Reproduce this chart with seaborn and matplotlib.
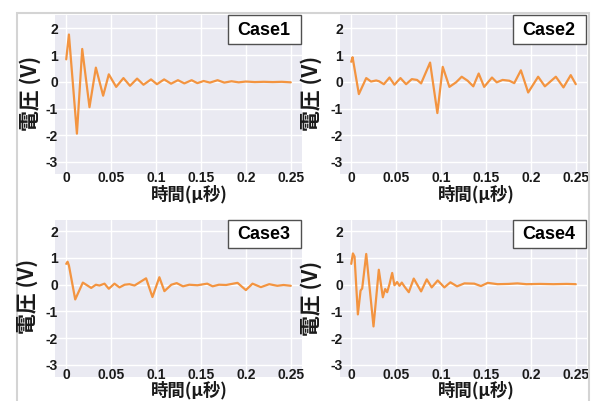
import matplotlib
matplotlib.use("Agg")
import matplotlib.pyplot as plt
import matplotlib.patches as mpatches
import seaborn as sns
import pandas as pd

# ---------------- data ----------------
case_names = ["Case1", "Case2", "Case3", "Case4"]

t1 = [0.0, 0.003, 0.0119, 0.0178, 0.0259, 0.033, 0.0411, 0.0474, 0.0556, 0.0637,
      0.071, 0.0789, 0.086, 0.0944, 0.101, 0.109, 0.1167, 0.1244, 0.1315, 0.1396,
      0.146, 0.153, 0.160, 0.1685, 0.176, 0.184, 0.192, 0.200, 0.210, 0.220,
      0.230, 0.240, 0.250]
v1 = [0.84, 1.77, -1.94, 1.23, -0.95, 0.53, -0.52, 0.28, -0.19, 0.14,
      -0.15, 0.12, -0.11, 0.09, -0.09, 0.09, -0.07, 0.06, -0.06, 0.06,
      -0.05, 0.03, -0.03, 0.06, -0.03, 0.02, -0.02, 0.01, -0.01, 0.0,
      -0.01, 0.0, -0.02]

t2 = [0.0, 0.0015, 0.0085, 0.0167, 0.022, 0.0278, 0.031, 0.0363, 0.0426, 0.0481,
      0.0548, 0.0611, 0.0674, 0.0733, 0.0778, 0.0878, 0.0959, 0.1019, 0.1093, 0.1167,
      0.123, 0.1296, 0.1359, 0.1419, 0.148, 0.1567, 0.162, 0.1685, 0.176, 0.1815,
      0.1889, 0.197, 0.2081, 0.2156, 0.2278, 0.2363, 0.2444, 0.25]
v2 = [0.75, 0.92, -0.46, 0.14, 0.01, 0.05, 0.02, -0.09, 0.16, -0.11,
      0.14, -0.09, 0.10, 0.07, -0.06, 0.72, -1.17, 0.56, -0.19, -0.02,
      0.19, 0.04, -0.17, 0.31, -0.19, 0.16, -0.02, 0.07, 0.04, -0.05,
      0.43, -0.40, 0.19, -0.17, 0.19, -0.21, 0.25, -0.09]

t3 = [0.0, 0.0015, 0.003, 0.010, 0.0185, 0.0278, 0.033, 0.037, 0.0426, 0.0474,
      0.0537, 0.0593, 0.065, 0.0704, 0.076, 0.0889, 0.096, 0.1037, 0.1093, 0.117,
      0.123, 0.130, 0.137, 0.146, 0.157, 0.163, 0.170, 0.178, 0.1907, 0.200,
      0.2074, 0.2167, 0.226, 0.235, 0.242, 0.25]
v3 = [0.78, 0.86, 0.72, -0.55, 0.08, -0.12, 0.0, -0.03, 0.04, -0.15,
      0.04, -0.10, 0.0, 0.02, -0.03, 0.24, -0.46, 0.28, -0.24, 0.0,
      0.06, -0.06, 0.0, -0.02, 0.04, -0.06, 0.0, -0.01, 0.07, -0.20,
      0.04, -0.09, 0.02, -0.04, -0.01, -0.04]

t4 = [0.0, 0.0019, 0.0037, 0.0074, 0.0104, 0.0122, 0.0167, 0.0248, 0.0307, 0.0352,
      0.0378, 0.040, 0.0426, 0.0456, 0.0481, 0.0511, 0.0537, 0.0563, 0.0593, 0.0641,
      0.0696, 0.0778, 0.0841, 0.0896, 0.0963, 0.1037, 0.1104, 0.1178, 0.126, 0.137,
      0.1444, 0.152, 0.163, 0.175, 0.185, 0.195, 0.21, 0.225, 0.24, 0.25]
v4 = [0.78, 1.17, 1.05, -1.11, -0.22, -0.14, 1.15, -1.56, 0.56, -0.47,
      -0.16, -0.28, 0.02, 0.44, -0.02, 0.10, -0.04, 0.08, -0.07, -0.28,
      0.23, -0.25, 0.20, -0.10, 0.16, -0.10, 0.09, -0.06, 0.05, 0.04,
      -0.05, 0.07, 0.02, 0.03, 0.05, 0.02, 0.03, 0.02, 0.03, 0.02]

x_ticks = [0, 0.05, 0.1, 0.15, 0.2, 0.25]
x_tick_labels = ["0", "0.05", "0.1", "0.15", "0.2", "0.25"]
y_ticks = [-3, -2, -1, 0, 1, 2]
y_tick_labels = ["-3", "-2", "-1", "0", "1", "2"]
x_label = "時間(μ秒)"
y_label = "電圧 (V)"

# ---------------- style ----------------
sns.set_theme(style="darkgrid")
plt.rcParams["font.family"] = ["Liberation Sans", "Noto Sans CJK JP", "DejaVu Sans"]

W, H = 597, 401
fig = plt.figure(figsize=(W / 100, H / 100), dpi=100)
fig.patch.set_facecolor("white")

# outer slide frame
fig.patches.append(mpatches.Rectangle((17 / W, -0.1), (589 - 17) / W, 1 - 13 / H + 0.1,
                                      transform=fig.transFigure, fill=False,
                                      ec="#D4D4D4", lw=1.5, zorder=0))

# pixel boxes: left, right, top, bottom
boxes = [(55, 302, 15, 174), (340, 587, 15, 174),
         (55, 302, 220, 377), (340, 587, 220, 377)]
series = [(t1, v1), (t2, v2), (t3, v3), (t4, v4)]
ylims = [(-3.45, 2.5), (-3.45, 2.5), (-3.45, 2.42), (-3.45, 2.42)]
xpads = [-2.5, -2.5, -6.5, -6.5]
ylab_pos = [(30, 93), (311, 93), (27, 296), (311, 298)]
xlab_pos = [(189, 194), (476, 194), (189, 390.5), (476, 390.5)]

line_color = "#F39440"

for i, ((l, r, t, b), (tt, vv)) in enumerate(zip(boxes, series)):
    ax = fig.add_axes([l / W, 1 - b / H, (r - l) / W, (b - t) / H])
    df = pd.DataFrame({"t": tt, "v": vv})
    sns.lineplot(data=df, x="t", y="v", ax=ax, color=line_color, linewidth=1.6,
                 estimator=None, sort=False)
    for ln in ax.lines:
        ln.set_solid_joinstyle("round")
        ln.set_solid_capstyle("round")
    ax.set_xlim(-0.0125, 0.2625)
    ax.set_ylim(*ylims[i])
    ax.set_xticks(x_ticks)
    ax.set_xticklabels(x_tick_labels)
    ax.set_yticks(y_ticks)
    ax.set_yticklabels(y_tick_labels)
    ax.set_xlabel("")
    ax.set_ylabel("")
    ax.tick_params(axis="x", length=0, pad=xpads[i], labelsize=10, labelcolor="#1a1a1a")
    ax.tick_params(axis="y", length=0, pad=-2, labelsize=10, labelcolor="#1a1a1a")
    for lab in ax.get_xticklabels() + ax.get_yticklabels():
        lab.set_fontweight("bold")
    for s in ax.spines.values():
        s.set_visible(False)

    # Case label box
    ax.add_patch(mpatches.Rectangle((0.70, 0.82), 0.294, 0.177, transform=ax.transAxes,
                                    fc="white", ec="#505050", lw=1.0, zorder=5,
                                    clip_on=False))
    ax.text(0.847, 0.905, case_names[i], transform=ax.transAxes, ha="center",
            va="center", fontsize=13, fontweight="bold", color="black", zorder=6,
            family=["Liberation Sans", "DejaVu Sans"])

    yx, yy = ylab_pos[i]
    fig.text(yx / W, 1 - yy / H, y_label, rotation=90, ha="center", va="center",
             fontsize=15, fontweight="bold", color="#1a1a1a",
             family=["Noto Sans CJK JP", "DejaVu Sans"])
    xx, xy = xlab_pos[i]
    fig.text(xx / W, 1 - xy / H, x_label, ha="center", va="center",
             fontsize=12.5, fontweight="bold", color="#1a1a1a",
             family=["Noto Sans CJK JP", "DejaVu Sans"])

fig.savefig("out.png", dpi=100, facecolor="white")
